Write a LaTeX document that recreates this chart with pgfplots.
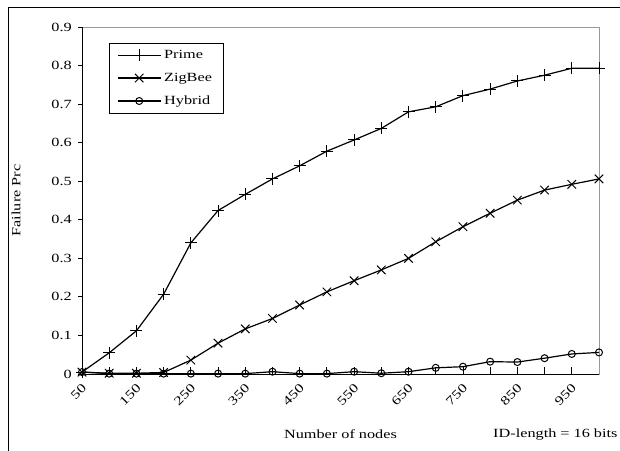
\documentclass[border=0pt]{standalone}
\usepackage{fontspec}
\setmainfont{Liberation Serif}[FakeStretch=1.3]
\usepackage{pgfplots}
\pgfplotsset{compat=1.18}
\begin{document}
\begin{tikzpicture}[x=1pt,y=1pt,font=\fontsize{12.5}{14}\selectfont]
\begin{scope}
\clip (0,0) rectangle (620,450);
\draw[black, line width=1pt] (8,442) rectangle (640,-20);
\begin{axis}[
  at={(82pt,76pt)}, anchor=south west,
  scale only axis, width=517pt, height=347pt,
  xmin=50, xmax=1000, ymin=0, ymax=0.9,
  xtick={50,150,...,950},
  minor xtick={100,200,...,1000},
  xticklabels={50,150,250,350,450,550,650,750,850,950},
  ytick={0,0.1,...,0.9},
  yticklabels={0,0.1,0.2,0.3,0.4,0.5,0.6,0.7,0.8,0.9},
  xtick pos=bottom, ytick pos=left,
  tick align=outside,
  major tick length=4pt,
  minor tick length=7pt,
  xtick style={black, line width=0.8pt, /pgfplots/major tick length=7pt, yshift=7pt},
  ytick style={black, line width=0.8pt},
  every tick label/.append style={font=\fontsize{12.5}{14}\selectfont},
  xticklabel style={rotate=45, anchor=north east, inner sep=1pt, xshift=-3pt, yshift=-2pt},
  yticklabel style={inner sep=1pt, xshift=-5pt},
  /pgf/number format/assume math mode=true,
  axis line style={gray!80, line width=0.8pt},
  xlabel={Number of nodes},
  ylabel={Failure Prc},
  label style={font=\fontsize{12.5}{14}\selectfont},
  xlabel style={at={(0.5,0)}, anchor=north, yshift=-52pt},
  ylabel style={at={(0,0.5)}, anchor=south, yshift=58pt},
  legend style={at={(0.052,0.954)}, anchor=north west, draw=black, line width=0.8pt,
    inner xsep=8pt, inner ysep=5pt, row sep=9pt, font=\fontsize{12.5}{14}\selectfont,
    cells={anchor=west}, nodes={inner xsep=3pt}},
  legend image code/.code={
    \draw[mark repeat=2,mark phase=2] plot coordinates {(0cm,0cm) (0.75cm,0cm) (1.5cm,0cm)};},
  every axis plot/.append style={black, line width=1.2pt, mark options={solid, line width=1pt}},
  clip=false,
]
\addplot[mark=+, mark size=6pt] coordinates {
(50,0.005) (100,0.055) (150,0.112) (200,0.207) (250,0.340) (300,0.424) (350,0.466) (400,0.506)
(450,0.540) (500,0.578) (550,0.607) (600,0.637) (650,0.680) (700,0.693) (750,0.722) (800,0.739)
(850,0.760) (900,0.775) (950,0.793) (1000,0.793)};
\addplot[mark=x, mark size=6pt] coordinates {
(50,0.005) (100,0.002) (150,0.002) (200,0.004) (250,0.036) (300,0.080) (350,0.117) (400,0.144)
(450,0.179) (500,0.213) (550,0.242) (600,0.270) (650,0.300) (700,0.343) (750,0.382) (800,0.417)
(850,0.451) (900,0.477) (950,0.492) (1000,0.506)};
\addplot[mark=o, mark size=3.5pt] coordinates {
(50,0.005) (100,0.001) (150,0.001) (200,0.001) (250,0.001) (300,0.001) (350,0.001) (400,0.006)
(450,0.001) (500,0.001) (550,0.006) (600,0.002) (650,0.006) (700,0.016) (750,0.019) (800,0.032)
(850,0.031) (900,0.041) (950,0.052) (1000,0.056)};
\legend{Prime,ZigBee,Hybrid}
\draw[black, line width=0.9pt] (rel axis cs:0,1) -- (rel axis cs:0,0) -- (rel axis cs:1,0);
\node[anchor=north west, inner sep=0pt] at (rel axis cs:0.795,0) [yshift=-55pt] {ID-length = 16 bits};
\end{axis}
\end{scope}
\pgfresetboundingbox
\path[use as bounding box] (0,0) rectangle (620,450);
\end{tikzpicture}
\end{document}
